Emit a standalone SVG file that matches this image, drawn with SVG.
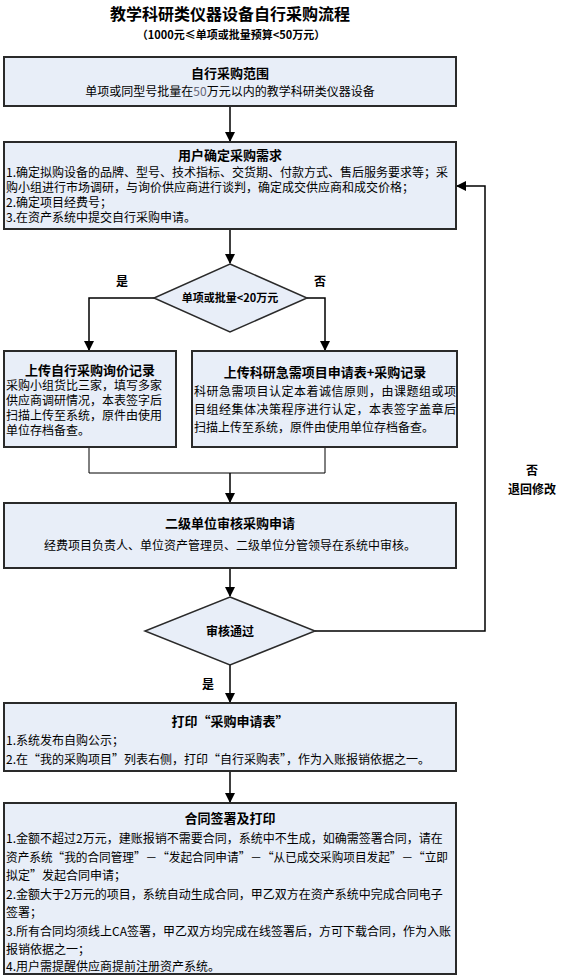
<svg xmlns="http://www.w3.org/2000/svg" width="566" height="976" viewBox="0 0 566 976">
<style>
.box{fill:#E8EEF8;stroke:#2a2a2a;stroke-width:2}
.t{font-family:"Noto Sans CJK SC","Noto Sans",sans-serif;fill:#000}
.h{font-size:13px;font-weight:bold;text-anchor:middle}
.b{font-size:12px}
.c{text-anchor:middle}
.ln{fill:none;stroke:#000;stroke-width:1.5}
.lt{fill:none;stroke:#000;stroke-width:1}
</style>
<defs>
<marker id="ah" markerUnits="userSpaceOnUse" markerWidth="10" markerHeight="10" refX="9" refY="5" orient="auto">
<path d="M0,0 L10,5 L0,10 Z" fill="#000"/>
</marker>
</defs>
<rect width="566" height="976" fill="#fff"/>
<g id="title">
<text class="t" x="230" y="20" font-size="16" font-weight="bold" text-anchor="middle">教学科研类仪器设备自行采购流程</text>
<text class="t" x="231" y="39" font-size="11" font-weight="bold" text-anchor="middle">（1000元≤单项或批量预算&lt;50万元）</text>
</g>
<g id="connectors">
<line class="ln" x1="230" y1="106" x2="230" y2="141" marker-end="url(#ah)"/>
<line class="ln" x1="230" y1="229" x2="230" y2="263" marker-end="url(#ah)"/>
<polyline class="ln" points="154,298 89,298 89,350" marker-end="url(#ah)"/>
<polyline class="ln" points="307,298 325,298 325,350" marker-end="url(#ah)"/>
<polyline class="lt" points="89,447 89,473 325,473 325,447"/>
<line class="ln" x1="230" y1="473" x2="230" y2="502" marker-end="url(#ah)"/>
<line class="ln" x1="230" y1="568" x2="230" y2="596" marker-end="url(#ah)"/>
<polyline class="ln" points="315,631 485,631 485,186 457,186" marker-end="url(#ah)"/>
<line class="ln" x1="230" y1="665" x2="230" y2="702" marker-end="url(#ah)"/>
<line class="ln" x1="230" y1="771" x2="230" y2="802" marker-end="url(#ah)"/>
<text class="t" x="122" y="286" font-size="12" font-weight="bold" text-anchor="middle">是</text>
<text class="t" x="320" y="286" font-size="12" font-weight="bold" text-anchor="middle">否</text>
<text class="t" x="532" y="475" font-size="12" font-weight="bold" text-anchor="middle">否</text>
<text class="t" x="532" y="494" font-size="12" font-weight="bold" text-anchor="middle">退回修改</text>
<text class="t" x="208" y="689" font-size="12" font-weight="bold" text-anchor="middle">是</text>
</g>
<g id="n1">
<rect class="box" x="4" y="57" width="452" height="49"/>
<text class="t h" x="230" y="78">自行采购范围</text>
<text class="t b c" x="230" y="96">单项或同型号批量在<tspan fill="#667">50</tspan>万元以内的教学科研类仪器设备</text>
</g>
<g id="n2">
<rect class="box" x="4" y="142" width="452" height="87"/>
<text class="t h" x="230" y="160">用户确定采购需求</text>
<text class="t b" x="6" y="177">1.确定拟购设备的品牌、型号、技术指标、交货期、付款方式、售后服务要求等；采</text>
<text class="t b" x="6" y="192">购小组进行市场调研，与询价供应商进行谈判，确定成交供应商和成交价格；</text>
<text class="t b" x="6" y="207">2.确定项目经费号；</text>
<text class="t b" x="6" y="222">3.在资产系统中提交自行采购申请。</text>
</g>
<g id="d1">
<polygon points="230,264 307,298 230,332 154,298" fill="#E8EEF8" stroke="#2a2a2a" stroke-width="1.5"/>
<text class="t" x="230" y="302" font-size="11" font-weight="bold" text-anchor="middle">单项或批量&lt;20万元</text>
</g>
<g id="n3">
<rect class="box" x="4" y="351" width="172" height="96"/>
<text class="t h" x="90" y="375">上传自行采购询价记录</text>
<text class="t b" x="6" y="390">采购小组货比三家，填写多家</text>
<text class="t b" x="6" y="405">供应商调研情况，本表签字后</text>
<text class="t b" x="6" y="420">扫描上传至系统，原件由使用</text>
<text class="t b" x="6" y="435">单位存档备查。</text>
</g>
<g id="n4">
<rect class="box" x="192" y="351" width="265" height="96"/>
<text class="t h" x="325" y="377">上传科研急需项目申请表+采购记录</text>
<text class="t b" x="194" y="396" textLength="262" lengthAdjust="spacing">科研急需项目认定本着诚信原则，由课题组或项</text>
<text class="t b" x="194" y="414" textLength="262" lengthAdjust="spacing">目组经集体决策程序进行认定，本表签字盖章后</text>
<text class="t b" x="194" y="432">扫描上传至系统，原件由使用单位存档备查。</text>
</g>
<g id="n5">
<rect class="box" x="4" y="503" width="452" height="65"/>
<text class="t h" x="230" y="528">二级单位审核采购申请</text>
<text class="t b c" x="230" y="550">经费项目负责人、单位资产管理员、二级单位分管领导在系统中审核。</text>
</g>
<g id="d2">
<polygon points="230,597 315,631 230,665 145,631" fill="#E8EEF8" stroke="#2a2a2a" stroke-width="1.5"/>
<text class="t" x="230" y="636" font-size="12" font-weight="bold" text-anchor="middle">审核通过</text>
</g>
<g id="n6">
<rect class="box" x="4" y="703" width="452" height="68"/>
<text class="t h" x="230" y="726">打印“采购申请表”</text>
<text class="t b" x="6" y="745">1.系统发布自购公示；</text>
<text class="t b" x="6" y="764">2.在“我的采购项目”列表右侧，打印“自行采购表”，作为入账报销依据之一。</text>
</g>
<g id="n7">
<rect class="box" x="4" y="803" width="452" height="171"/>
<text class="t h" x="230" y="823">合同签署及打印</text>
<text class="t b" x="6" y="843">1.金额不超过2万元，建账报销不需要合同，系统中不生成，如确需签署合同，请在</text>
<text class="t b" x="6" y="862" textLength="442" lengthAdjust="spacingAndGlyphs">资产系统“我的合同管理”－“发起合同申请”－“从已成交采购项目发起”－“立即</text>
<text class="t b" x="6" y="880">拟定”发起合同申请；</text>
<text class="t b" x="6" y="899">2.金额大于2万元的项目，系统自动生成合同，甲乙双方在资产系统中完成合同电子</text>
<text class="t b" x="6" y="917">签署；</text>
<text class="t b" x="6" y="936">3.所有合同均须线上CA签署，甲乙双方均完成在线签署后，方可下载合同，作为入账</text>
<text class="t b" x="6" y="954">报销依据之一；</text>
<text class="t b" x="6" y="971">4.用户需提醒供应商提前注册资产系统。</text>
</g>
</svg>
